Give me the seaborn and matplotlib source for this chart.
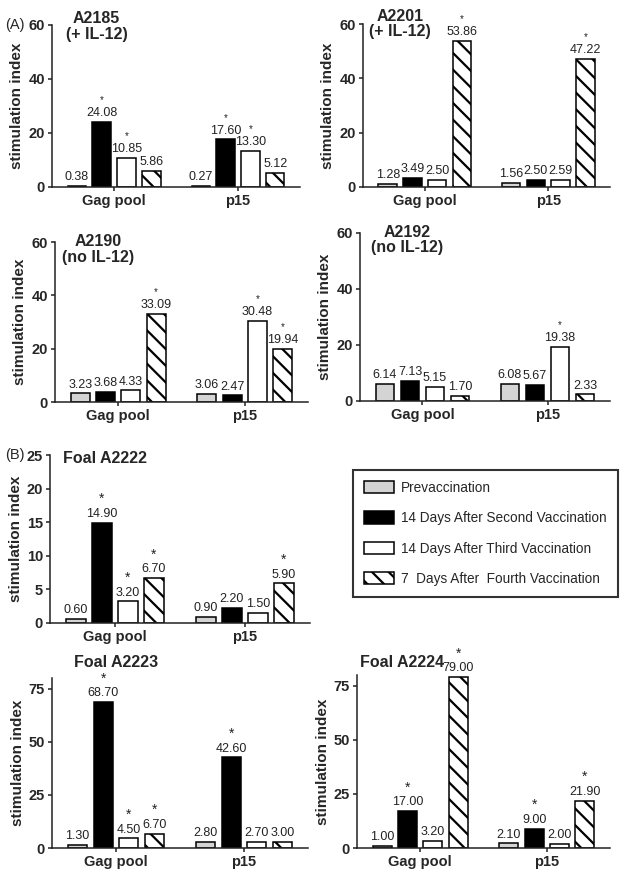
import numpy as np
import pandas as pd
import matplotlib
matplotlib.use('Agg')
import matplotlib.pyplot as plt
from matplotlib.patches import Patch
import seaborn as sns

sns.set_style('ticks')
plt.rcParams['font.family'] = ['Liberation Sans', 'DejaVu Sans']
plt.rcParams['hatch.linewidth'] = 1.6

antigens = ['Gag pool', 'p15']
timepoints = ['Prevaccination', '14 Days After Second Vaccination',
              '14 Days After Third Vaccination', '7  Days After  Fourth Vaccination']

## stimulation index per horse: [Gag pool values], [p15 values]
a2185_gag = [0.38, 24.08, 10.85, 5.86]
a2185_p15 = [0.27, 17.60, 13.30, 5.12]
a2201_gag = [1.28, 3.49, 2.50, 53.86]
a2201_p15 = [1.56, 2.50, 2.59, 47.22]
a2190_gag = [3.23, 3.68, 4.33, 33.09]
a2190_p15 = [3.06, 2.47, 30.48, 19.94]
a2192_gag = [6.14, 7.13, 5.15, 1.70]
a2192_p15 = [6.08, 5.67, 19.38, 2.33]
a2222_gag = [0.60, 14.90, 3.20, 6.70]
a2222_p15 = [0.90, 2.20, 1.50, 5.90]
a2223_gag = [1.30, 68.70, 4.50, 6.70]
a2223_p15 = [2.80, 42.60, 2.70, 3.00]
a2224_gag = [1.00, 17.00, 3.20, 79.00]
a2224_p15 = [2.10, 9.00, 2.00, 21.90]

## significance stars (1 = star)
a2185_star = [[0, 1, 1, 0], [0, 1, 1, 0]]
a2201_star = [[0, 0, 0, 1], [0, 0, 0, 1]]
a2190_star = [[0, 0, 0, 1], [0, 0, 1, 1]]
a2192_star = [[0, 0, 0, 0], [0, 0, 1, 0]]
a2222_star = [[0, 1, 1, 1], [0, 0, 0, 1]]
a2223_star = [[0, 1, 1, 1], [0, 1, 0, 0]]
a2224_star = [[0, 1, 0, 1], [0, 1, 0, 1]]

colors = ['#d4d4d4', 'black', 'white', 'white']
hatches = [None, None, None, '\\\\']

W, H = 624, 876
fig = plt.figure(figsize=(W / 100, H / 100), dpi=100)

# (gag, p15, stars, title, ylim, yticks, pixel box l r t b, title pos, big stars)
panels = [
    (a2185_gag, a2185_p15, a2185_star, 'A2185\n(+ IL-12)', 60, [0, 20, 40, 60], (52, 300, 25, 187), (0.18, 0.99), False),
    (a2201_gag, a2201_p15, a2201_star, 'A2201\n(+ IL-12)', 60, [0, 20, 40, 60], (363, 610, 24, 187), (0.15, 1.0), False),
    (a2190_gag, a2190_p15, a2190_star, 'A2190\n(no IL-12)', 60, [0, 20, 40, 60], (55, 308, 242, 402), (0.17, 0.955), False),
    (a2192_gag, a2192_p15, a2192_star, 'A2192\n(no IL-12)', 60, [0, 20, 40, 60], (360, 610, 233, 401), (0.19, 0.958), False),
    (a2222_gag, a2222_p15, a2222_star, 'Foal A2222', 25, [0, 5, 10, 15, 20, 25], (50, 310, 455, 623), (0.21, 0.98), True),
    (a2223_gag, a2223_p15, a2223_star, 'Foal A2223', 80, [0, 25, 50, 75], (52, 308, 678, 848), (0.25, 1.094), True),
    (a2224_gag, a2224_p15, a2224_star, 'Foal A2224', 80, [0, 25, 50, 75], (357, 610, 675, 848), (0.18, 1.075), True),
]

for gag, p15, stars, title, ytop, yticks, box, tpos, big in panels:
    l, r, t, b = box
    ax = fig.add_axes([l / W, 1 - b / H, (r - l) / W, (b - t) / H])
    df = pd.DataFrame({
        'antigen': np.repeat(antigens, 4),
        'time': timepoints * 2,
        'si': gag + p15,
    })
    sns.barplot(data=df, x='antigen', y='si', hue='time', hue_order=timepoints,
                order=antigens, palette=colors, width=0.8, gap=0.25,
                edgecolor='black', linewidth=1.1, legend=False, ax=ax)
    for i, cont in enumerate(ax.containers):
        for j, bar in enumerate(cont):
            bar.set_facecolor(colors[i])
            if hatches[i]:
                bar.set_hatch(hatches[i])
            h = bar.get_height()
            x = bar.get_x() + bar.get_width() / 2
            ax.annotate('%.2f' % h, (x, h), xytext=(0, 2), textcoords='offset points',
                        ha='center', va='bottom', fontsize=9, color='#222222', clip_on=False)
            if stars[j][i]:
                ax.annotate('*', (x, h), xytext=(0, 12), textcoords='offset points',
                            ha='center', va='bottom', fontsize=10 if big else 7,
                            color='#222222', clip_on=False)
    ax.set_xlim(-0.5, 1.5)
    ax.set_ylim(0, ytop)
    ax.set_yticks(yticks)
    ax.set_xlabel('')
    ax.set_ylabel('stimulation index', fontsize=11, fontweight='bold', labelpad=3)
    ax.tick_params(axis='both', labelsize=10.5, width=1.1, length=3, pad=2, color='#222222')
    for lab in ax.get_xticklabels() + ax.get_yticklabels():
        lab.set_fontweight('bold')
    sns.despine(ax=ax)
    for s in ['left', 'bottom']:
        ax.spines[s].set_linewidth(1.1)
        ax.spines[s].set_color('#222222')
    ax.text(tpos[0], tpos[1], title, transform=ax.transAxes, ha='center', va='center',
            fontsize=11.5, fontweight='bold', linespacing=1.05)

fig.text(5 / W, 1 - 25 / H, '(A)', fontsize=10.5, va='center', ha='left')
fig.text(5 / W, 1 - 455 / H, '(B)', fontsize=10.5, va='center', ha='left')

handles = [Patch(facecolor=c, edgecolor='black', hatch=h, linewidth=1.1)
           for c, h in zip(colors, hatches)]
leg = fig.legend(handles, timepoints, loc='upper left',
                 bbox_to_anchor=(353 / W, 1 - 470 / H), fontsize=9.8,
                 frameon=True, fancybox=False, edgecolor='black', borderaxespad=0,
                 handlelength=2.2, handleheight=1.0, labelspacing=1.2,
                 borderpad=0.8, handletextpad=0.55)
leg.get_frame().set_linewidth(1.5)

fig.savefig('out.png', dpi=100)
